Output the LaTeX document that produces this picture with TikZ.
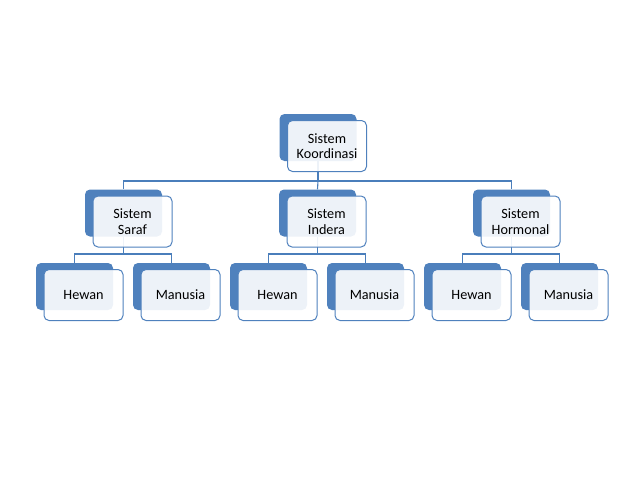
\documentclass[tikz,border=0pt]{standalone}
\usepackage{fontspec}
\setmainfont{Carlito}
\definecolor{accent}{HTML}{4F81BD}
\definecolor{linkblue}{HTML}{4A7EBB}

\begin{document}
\begin{tikzpicture}[x=1pt,y=-1pt]
  \tikzstyle{backbox}=[rectangle,rounded corners=5pt,fill=accent,minimum width=77pt,minimum height=47pt,inner sep=0pt]
  \tikzstyle{frontbox}=[rectangle,rounded corners=5pt,draw=accent,line width=1pt,fill=white,fill opacity=0.9,text opacity=1,minimum width=79pt,minimum height=51pt,inner sep=0pt,align=center,font=\fontsize{14.2}{15.5}\selectfont]
  \tikzstyle{link}=[draw=linkblue,line width=1.1pt]
  \useasboundingbox (0,0) rectangle (638,479);

  % back plates
  \node[backbox] (B_1) at (318,137.5) {};
  \node[backbox] (B_2) at (123.5,213) {};
  \node[backbox] (B_3) at (317.5,213) {};
  \node[backbox] (B_4) at (511.5,213) {};
  \node[backbox] (B_5) at (74.5,286.5) {};
  \node[backbox] (B_6) at (171.5,286.5) {};
  \node[backbox] (B_7) at (268.5,286.5) {};
  \node[backbox] (B_8) at (365.5,286.5) {};
  \node[backbox] (B_9) at (462.5,286.5) {};
  \node[backbox] (B_10) at (559.5,286.5) {};

  \coordinate (bus_1) at (318,181);
  \coordinate (bus_2) at (123.5,254);
  \coordinate (bus_3) at (317.5,254);
  \coordinate (bus_4) at (511.5,254);

  \draw[link] (B_1) -- (bus_1) -| (B_2.north);
  \draw[link] (bus_1) -- (B_3.north);
  \draw[link] (bus_1) -| (B_4.north);
  \draw[link] (B_2) -- (bus_2) -| (B_5.north);
  \draw[link] (bus_2) -| (B_6.north);
  \draw[link] (B_3) -- (bus_3) -| (B_7.north);
  \draw[link] (bus_3) -| (B_8.north);
  \draw[link] (B_4) -- (bus_4) -| (B_9.north);
  \draw[link] (bus_4) -| (B_10.north);

  % text boxes
  \node[frontbox] (T_1) at (327,146) {Sistem\\Koordinasi};
  \node[frontbox] (T_2) at (132.5,221.5) {Sistem\\Saraf};
  \node[frontbox] (T_3) at (326.5,221.5) {Sistem\\Indera};
  \node[frontbox] (T_4) at (520.5,221.5) {Sistem\\Hormonal};
  \node[frontbox] (T_5) at (83.5,295) {Hewan};
  \node[frontbox] (T_6) at (180.5,295) {Manusia};
  \node[frontbox] (T_7) at (277.5,295) {Hewan};
  \node[frontbox] (T_8) at (374.5,295) {Manusia};
  \node[frontbox] (T_9) at (471.5,295) {Hewan};
  \node[frontbox] (T_10) at (568.5,295) {Manusia};
\end{tikzpicture}
\end{document}
